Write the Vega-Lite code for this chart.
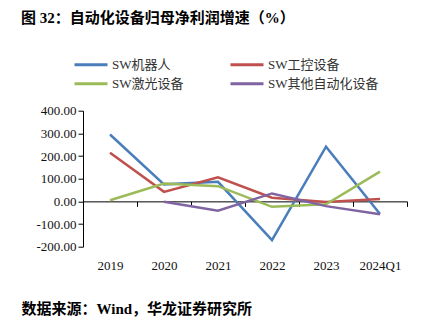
{
  "$schema": "https://vega.github.io/schema/vega-lite/v6.json",
  "autosize": "none",
  "width": 324,
  "height": 136,
  "padding": {"left": 83, "top": 110.7, "right": 33, "bottom": 77.3},
  "background": "white",
  "title": {
    "text": "图 32：自动化设备归母净利润增速（%）",
    "anchor": "start",
    "frame": "group",
    "font": "Liberation Serif, Noto Sans CJK SC",
    "fontSize": 15,
    "fontWeight": "bold",
    "color": "#000",
    "dx": -62,
    "dy": -26
  },
  "data": {
    "values": [
      {"series": "SW机器人", "year": "2019", "value": 295},
      {"series": "SW机器人", "year": "2020", "value": 75},
      {"series": "SW机器人", "year": "2021", "value": 86},
      {"series": "SW机器人", "year": "2022", "value": -171},
      {"series": "SW机器人", "year": "2023", "value": 241},
      {"series": "SW机器人", "year": "2024Q1", "value": -56},
      {"series": "SW工控设备", "year": "2019", "value": 214},
      {"series": "SW工控设备", "year": "2020", "value": 42},
      {"series": "SW工控设备", "year": "2021", "value": 106},
      {"series": "SW工控设备", "year": "2022", "value": 16},
      {"series": "SW工控设备", "year": "2023", "value": -3},
      {"series": "SW工控设备", "year": "2024Q1", "value": 10},
      {"series": "SW激光设备", "year": "2019", "value": 5},
      {"series": "SW激光设备", "year": "2020", "value": 79},
      {"series": "SW激光设备", "year": "2021", "value": 67},
      {"series": "SW激光设备", "year": "2022", "value": -24},
      {"series": "SW激光设备", "year": "2023", "value": -13},
      {"series": "SW激光设备", "year": "2024Q1", "value": 131},
      {"series": "SW其他自动化设备", "year": "2020", "value": -2},
      {"series": "SW其他自动化设备", "year": "2021", "value": -41},
      {"series": "SW其他自动化设备", "year": "2022", "value": 35},
      {"series": "SW其他自动化设备", "year": "2023", "value": -21},
      {"series": "SW其他自动化设备", "year": "2024Q1", "value": -57}
    ]
  },
  "mark": {"type": "line", "strokeWidth": 2.5},
  "encoding": {
    "x": {
      "field": "year",
      "type": "nominal",
      "sort": null,
      "scale": {"type": "band", "paddingInner": 0, "paddingOuter": 0},
      "axis": {
        "title": "数据来源：Wind，华龙证券研究所",
        "titleX": -62,
        "titleY": 107,
        "titleAlign": "left",
        "titleBaseline": "middle",
        "titleFont": "Liberation Serif, Noto Sans CJK SC",
        "titleFontSize": 15,
        "titleFontWeight": "bold",
        "titleColor": "#000",
        "orient": "bottom",
        "offset": -45.333,
        "labelAngle": 0,
        "domainColor": "#000",
        "domainWidth": 1,
        "tickColor": "#000",
        "tickSize": 5,
        "tickBand": "extent",
        "labelPadding": 53,
        "labelFont": "Liberation Serif",
        "labelFontSize": 13,
        "labelColor": "#111",
        "labelBaseline": "top"
      }
    },
    "y": {
      "field": "value",
      "type": "quantitative",
      "scale": {"domain": [-200, 400], "nice": false, "zero": false},
      "axis": {
        "title": null,
        "values": [-200, -100, 0, 100, 200, 300, 400],
        "labelExpr": "(datum.value < 0 ? '-' : '') + format(abs(datum.value), '.2f')",
        "grid": false,
        "domainColor": "#000",
        "tickColor": "#000",
        "tickSize": 5,
        "labelPadding": 2,
        "labelFont": "Liberation Serif",
        "labelFontSize": 13,
        "labelColor": "#111"
      }
    },
    "color": {
      "field": "series",
      "type": "nominal",
      "scale": {
        "domain": ["SW机器人", "SW激光设备", "SW工控设备", "SW其他自动化设备"],
        "range": ["#4A7EBB", "#9BBB59", "#C0504D", "#8064A2"]
      },
      "legend": {
        "title": null,
        "orient": "none",
        "legendX": -1,
        "legendY": -55,
        "columns": 2,
        "columnPadding": 40,
        "rowPadding": 3,
        "symbolType": "M-2.2,0H2.2",
        "symbolSize": 225,
        "symbolStrokeWidth": 3,
        "labelOffset": 12,
        "labelFont": "Liberation Serif, Noto Sans CJK SC",
        "labelFontSize": 13,
        "labelColor": "#333",
        "labelLimit": 200
      }
    }
  },
  "config": {
    "view": {"stroke": null}
  }
}
